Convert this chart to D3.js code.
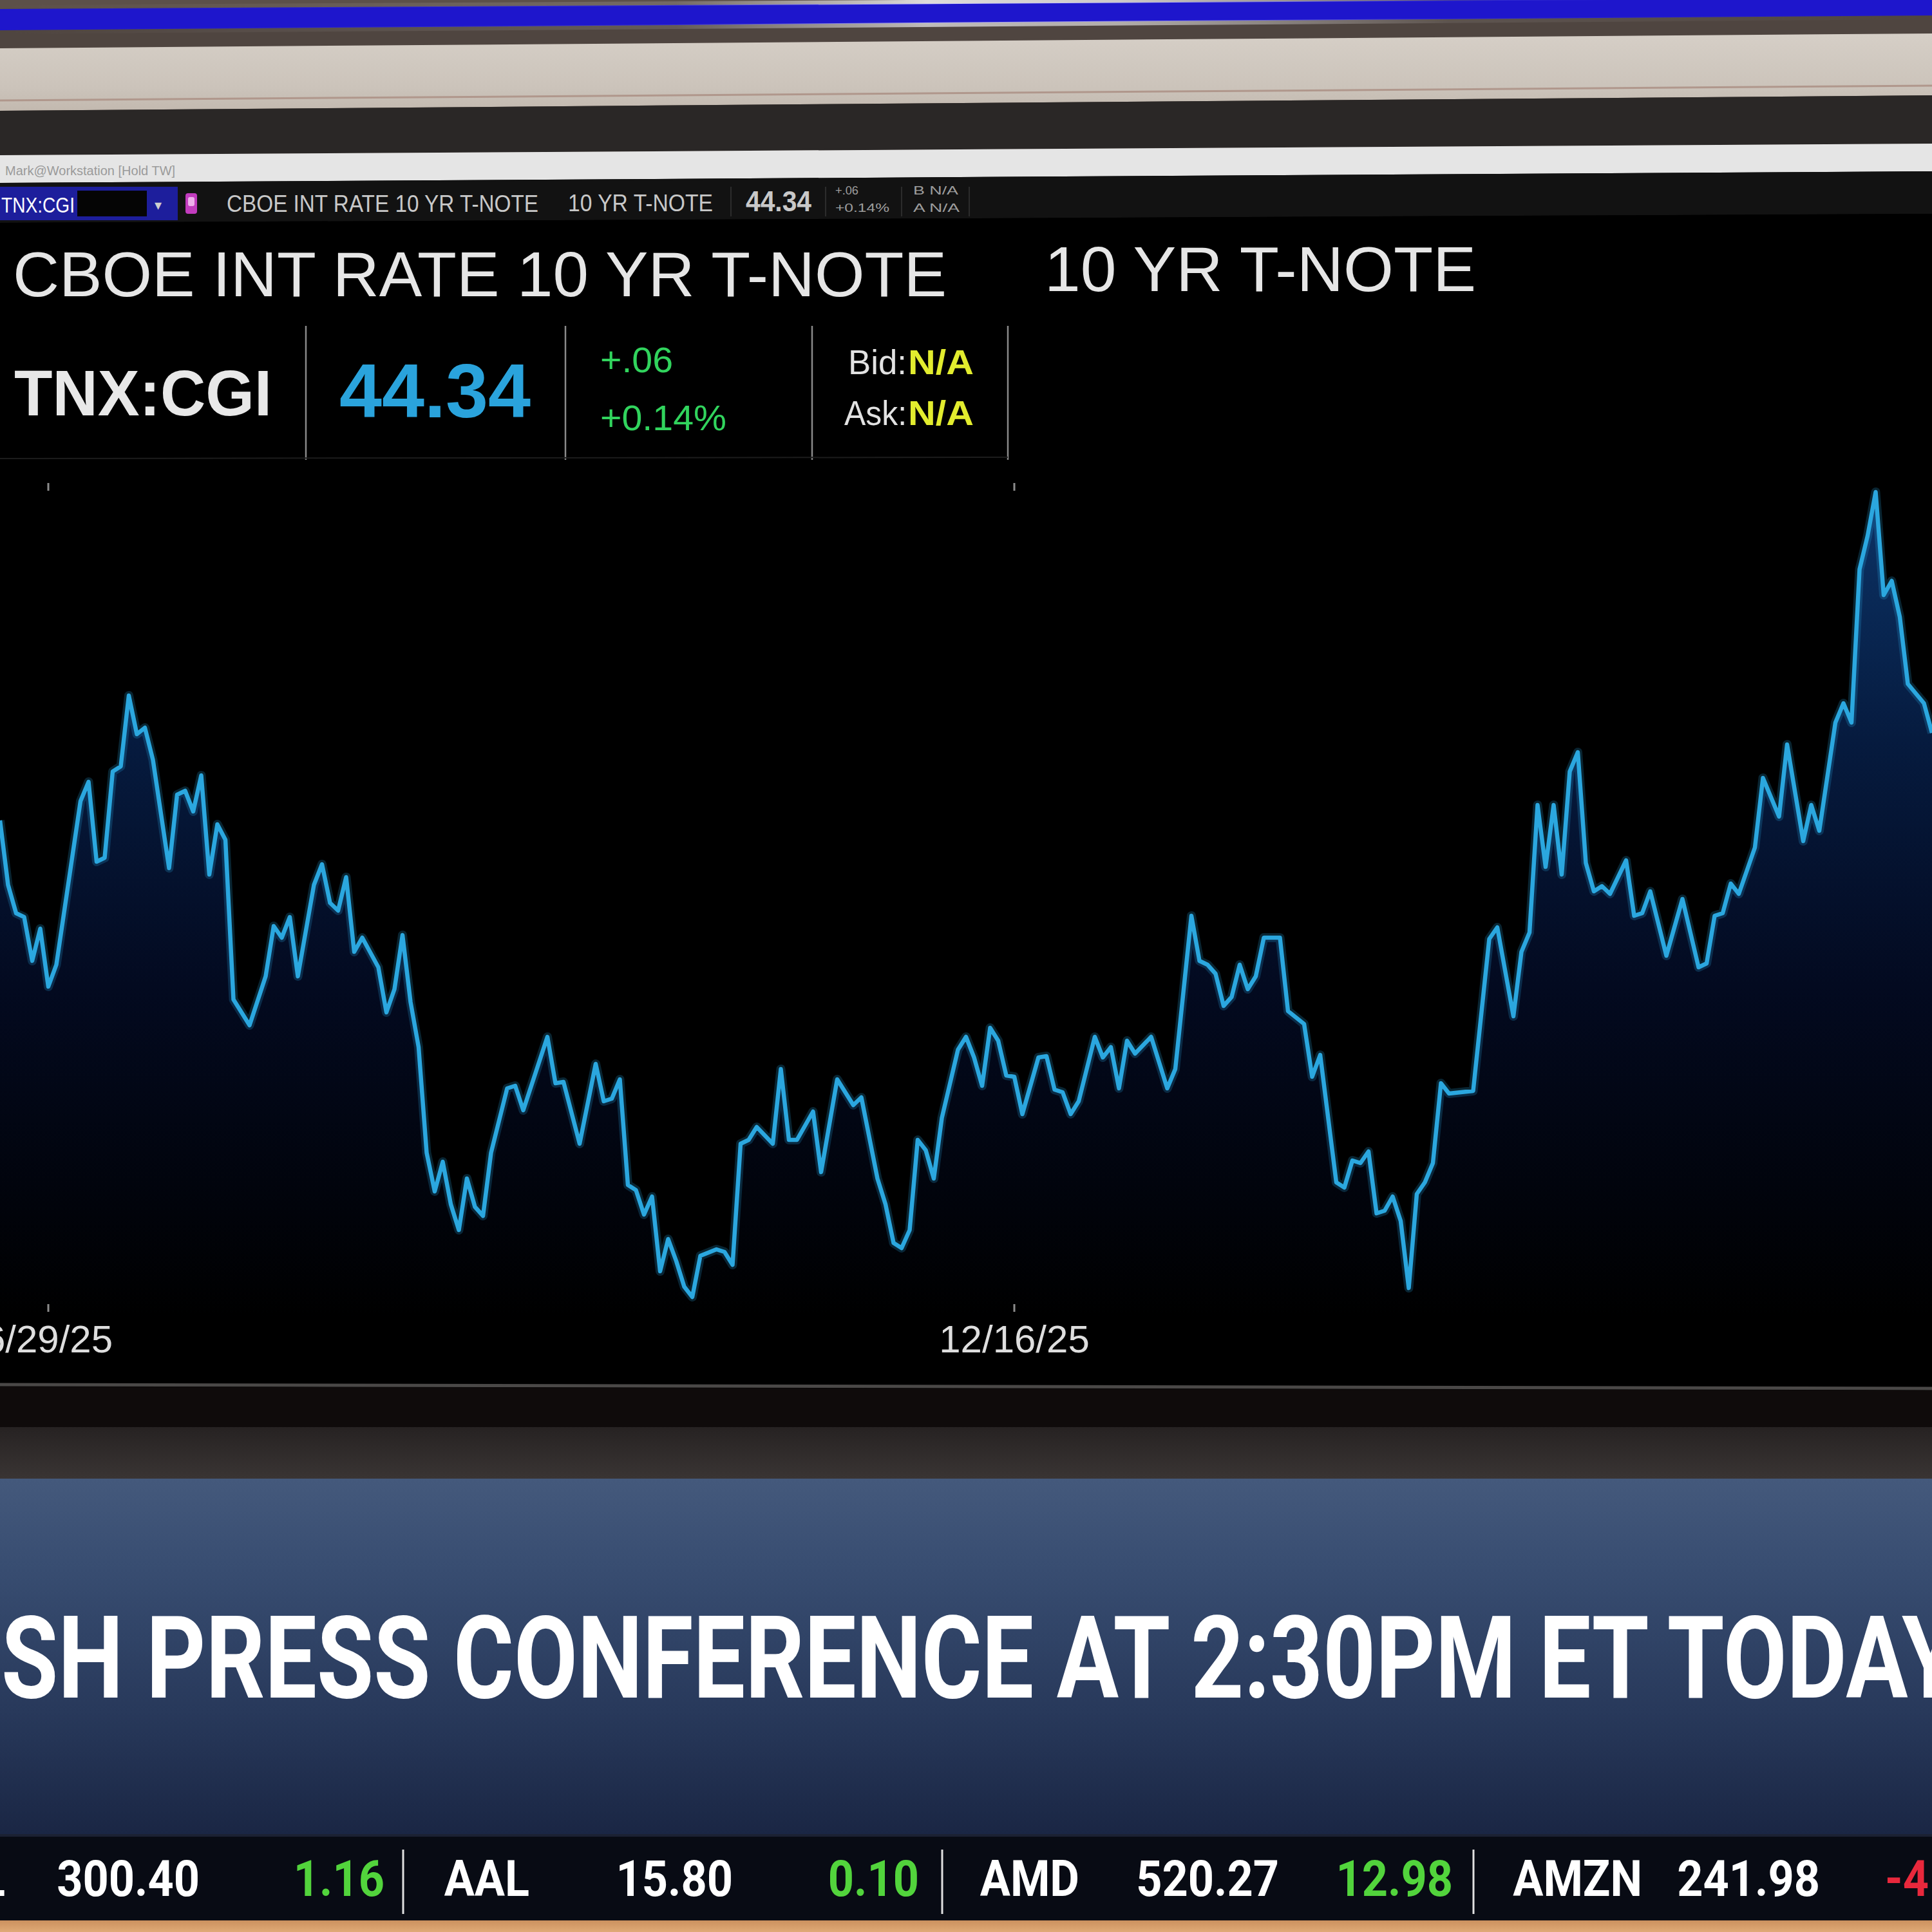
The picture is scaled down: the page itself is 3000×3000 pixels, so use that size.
<!DOCTYPE html>
<head>
    <meta charset="utf-8">
    <title>TNX:CGI - 10 YR T-NOTE</title>
    <style>
        body { margin: 0; background: #000; }
        svg { display: block; }
    </style>
</head>
<body>

<svg width="3000" height="3000"></svg>

<script src="https://d3js.org/d3.v7.min.js"></script>

<script>

// trading session (one per day) of each turning point of the line, and the index value there
var sessions = [0, 1, 2, 3, 4, 5, 6, 7, 10, 11, 12, 13, 14, 15, 16, 17, 18, 19, 21, 22,
    23, 24, 25, 26, 27, 28, 29, 31, 33, 34, 35, 36, 37, 39, 40, 41, 42, 43, 44, 45,
    47, 48, 49, 50, 51, 52, 53, 54, 55, 56, 57, 58, 59, 60, 61, 63, 64, 65, 68, 69,
    70, 72, 74, 75, 76, 77, 78, 79, 80, 81, 82, 83, 84, 85, 86, 87, 89, 90, 91, 92,
    93, 94, 96, 97, 98, 99, 101, 102, 104, 106, 107, 109, 110, 111, 112, 113, 114, 115, 116, 117,
    119, 120, 121, 122, 123, 124, 125, 126, 127, 129, 130, 131, 132, 133, 134, 136, 137, 138, 139, 140,
    141, 143, 145, 146, 148, 149, 150, 151, 152, 153, 154, 155, 156, 157, 159, 160, 162, 163, 164, 166,
    167, 168, 169, 170, 171, 172, 173, 174, 175, 176, 177, 178, 179, 180, 183, 185, 186, 188, 189, 190,
    191, 192, 193, 194, 195, 196, 197, 198, 199, 200, 202, 203, 204, 205, 207, 209, 211, 212, 213, 214,
    215, 216, 218, 219, 221, 222, 224, 225, 226, 228, 229, 230, 231, 232, 233, 234, 235, 236, 237, 239,
    240];

var values = [44.13, 43.63, 43.41, 43.38, 43.04, 43.29, 42.84, 43.01, 44.28, 44.43, 43.81, 43.84, 44.51, 44.55, 45.10, 44.80, 44.85, 44.60, 43.76, 44.33,
    44.36, 44.20, 44.48, 43.71, 44.10, 43.98, 42.74, 42.54, 42.92, 43.31, 43.22, 43.38, 42.92, 43.63, 43.79, 43.49, 43.43, 43.69, 43.11, 43.22,
    42.99, 42.64, 42.82, 43.24, 42.72, 42.37, 41.55, 41.25, 41.48, 41.15, 40.95, 41.35, 41.13, 41.06, 41.55, 42.05, 42.07, 41.88, 42.45, 42.09,
    42.10, 41.62, 42.24, 41.95, 41.97, 42.12, 41.30, 41.26, 41.07, 41.21, 40.63, 40.88, 40.71, 40.51, 40.43, 40.75, 40.80, 40.78, 40.68, 41.62,
    41.65, 41.75, 41.62, 42.20, 41.65, 41.65, 41.87, 41.40, 42.12, 41.92, 41.98, 41.35, 41.15, 40.85, 40.81, 40.95, 41.65, 41.57, 41.35, 41.82,
    42.35, 42.45, 42.29, 42.07, 42.52, 42.42, 42.15, 42.14, 41.85, 42.29, 42.30, 42.04, 42.02, 41.85, 41.95, 42.45, 42.29, 42.37, 42.05, 42.42,
    42.32, 42.45, 42.05, 42.20, 43.39, 43.04, 43.01, 42.94, 42.69, 42.76, 43.01, 42.82, 42.92, 43.22, 43.22, 42.65, 42.55, 42.14, 42.31, 41.32,
    41.28, 41.49, 41.47, 41.56, 41.08, 41.10, 41.21, 41.02, 40.50, 41.23, 41.32, 41.47, 42.09, 42.01, 42.03, 43.21, 43.30, 42.61, 43.11, 43.26,
    44.25, 43.77, 44.25, 43.71, 44.51, 44.66, 43.80, 43.58, 43.62, 43.56, 43.82, 43.39, 43.41, 43.58, 43.08, 43.52, 42.99, 43.02, 43.39, 43.41,
    43.64, 43.56, 43.92, 44.46, 44.16, 44.72, 43.97, 44.25, 44.05, 44.89, 45.04, 44.89, 46.08, 46.34, 46.68, 45.88, 45.99, 45.71, 45.19, 45.04,
    44.81];

var tickSessions = [6, 126];
var tickLabels = ['6/29/25', '12/16/25'];

var quoteSymbol = 'TNX:CGI',
    quoteName = 'CBOE INT RATE 10 YR T-NOTE',
    quoteShort = '10 YR T-NOTE',
    quoteLast = '44.34',
    quoteChange = '+.06',
    quotePct = '+0.14%';

var headline = 'SH PRESS CONFERENCE AT 2:30PM ET TODAY';

var tickerSymbols = ['AAPL', 'AAL', 'AMD', 'AMZN'];
var tickerPrices = ['300.40', '15.80', '520.27', '241.98'];
var tickerChanges = ['1.16', '0.10', '12.98', '-4'];

var svg = d3.select('svg'),
    defs = svg.append('defs');

var sans = '"Liberation Sans", Arial, sans-serif';

function poly(pts, fill) {
    return svg.append('polygon')
        .attr('points', pts.map(p => p.join(',')).join(' '))
        .attr('fill', fill);
}

function vgrad(id, y1, y2, stops) {
    var g = defs.append('linearGradient').attr('id', id)
        .attr('gradientUnits', 'userSpaceOnUse')
        .attr('x1', 0).attr('x2', 0).attr('y1', y1).attr('y2', y2);
    stops.forEach(s => g.append('stop').attr('offset', s[0]).attr('stop-color', s[1]).attr('stop-opacity', s[2] == null ? 1 : s[2]));
}

vgrad('beige', 50, 175, [[0, '#d6cfc7'], [0.7, '#cbc3ba'], [1, '#c2b8ae']]);
vgrad('under', 2215, 2298, [[0, '#262222'], [1, '#3a3534']]);
vgrad('lower', 2296, 2850, [[0, '#44597c'], [0.25, '#384d71'], [0.65, '#28395b'], [1, '#1a2644']]);
vgrad('wood', 2980, 3000, [[0, '#c98e5c'], [1, '#e0aa76']]);
vgrad('areaFill', 760, 2045, [[0, '#0c3468'], [0.3, '#061b3f'], [0.6, '#030a20'], [1, '#000000']]);

var streak = defs.append('linearGradient').attr('id', 'streak');
[[0, 0], [0.35, 0.15], [0.48, 0.8], [0.58, 0.7], [0.75, 0.1], [1, 0]].forEach(s =>
    streak.append('stop').attr('offset', s[0]).attr('stop-color', '#ffffff').attr('stop-opacity', s[1]));

// ---- studio wall above the screen (slightly tilted camera) ----
svg.append('rect').attr('width', 3000).attr('height', 260).attr('fill', '#4f4540');
poly([[0, 0], [3000, 0], [3000, -4], [0, 14]], '#5c5049');
poly([[0, 14], [3000, -4], [3000, 24], [0, 47]], '#1e16cc');
poly([[0, 8], [3000, -9], [3000, -3], [0, 15]], 'url(#streak)');
poly([[0, 46], [3000, 23], [3000, 30], [0, 53]], 'url(#streak)').attr('opacity', 0.8);
poly([[0, 75], [3000, 52], [3000, 148], [0, 172]], 'url(#beige)');
svg.append('line').attr('x1', 0).attr('y1', 156).attr('x2', 3000).attr('y2', 133)
    .attr('stroke', '#b0978c').attr('stroke-width', 3);
poly([[0, 172], [3000, 148], [3000, 223], [0, 241]], '#2a2726');

// ---- window chrome ----
poly([[0, 241], [3000, 223], [3000, 266], [0, 284]], '#e5e5e5');
svg.append('text').attr('x', 8).attr('y', 272)
    .attr('font-family', sans).attr('font-size', 20).attr('fill', '#9a9a9a')
    .text('Mark@Workstation [Hold TW]');
poly([[0, 284], [3000, 266], [3000, 332], [0, 346]], '#121212');

// screen body
poly([[0, 346], [3000, 332], [3000, 2156], [0, 2150]], '#000000');

// toolbar
var tb = svg.append('g');
tb.append('rect').attr('x', 0).attr('y', 290).attr('width', 276).attr('height', 52).attr('fill', '#1d1e9c');
tb.append('rect').attr('x', 120).attr('y', 296).attr('width', 108).attr('height', 40).attr('fill', '#050505');
tb.append('text').attr('x', 2).attr('y', 330)
    .attr('font-family', sans).attr('font-size', 34).attr('fill', '#ffffff')
    .attr('textLength', 114).attr('lengthAdjust', 'spacingAndGlyphs')
    .text(quoteSymbol);
tb.append('text').attr('x', 245).attr('y', 326).attr('text-anchor', 'middle')
    .attr('font-family', sans).attr('font-size', 22).attr('fill', '#cfcfcf').text('\u25BE');
tb.append('rect').attr('x', 288).attr('y', 300).attr('width', 18).attr('height', 32).attr('rx', 4).attr('fill', '#c23cbe');
tb.append('rect').attr('x', 292).attr('y', 306).attr('width', 10).attr('height', 14).attr('rx', 3).attr('fill', '#efb0ec');

var tbText = [
    {t: quoteName, x: 352, y: 329, w: 484, fs: 36, c: '#c8c8c8', b: false},
    {t: quoteShort, x: 882, y: 328, w: 225, fs: 36, c: '#c8c8c8', b: false},
    {t: quoteLast, x: 1158, y: 328, w: 102, fs: 44, c: '#c8c8c8', b: true},
    {t: quoteChange, x: 1297, y: 302, w: 36, fs: 18, c: '#9d9d9d', b: false},
    {t: quotePct, x: 1297, y: 329, w: 84, fs: 18, c: '#9d9d9d', b: false},
    {t: 'B  N/A', x: 1418, y: 302, w: 70, fs: 18, c: '#9d9d9d', b: false},
    {t: 'A  N/A', x: 1418, y: 329, w: 72, fs: 18, c: '#9d9d9d', b: false}
];
tb.selectAll('text.tb').data(tbText).enter().append('text')
    .attr('class', 'tb')
    .attr('x', d => d.x).attr('y', d => d.y)
    .attr('font-family', sans).attr('font-size', d => d.fs)
    .attr('font-weight', d => d.b ? 'bold' : 'normal')
    .attr('fill', d => d.c)
    .attr('textLength', d => d.w).attr('lengthAdjust', 'spacingAndGlyphs')
    .text(d => d.t);
tb.selectAll('line').data([1135, 1282, 1400, 1505]).enter().append('line')
    .attr('x1', d => d).attr('x2', d => d).attr('y1', 290).attr('y2', 336)
    .attr('stroke', '#2c2c2c').attr('stroke-width', 2);

// ---- quote header ----
var hd = svg.append('g').attr('font-family', sans);
hd.append('text').attr('x', 20).attr('y', 460).attr('font-size', 98).attr('fill', '#e6e6e6')
    .attr('textLength', 1450).attr('lengthAdjust', 'spacingAndGlyphs').text(quoteName);
hd.append('text').attr('x', 1622).attr('y', 452).attr('font-size', 98).attr('fill', '#e6e6e6')
    .attr('textLength', 670).attr('lengthAdjust', 'spacingAndGlyphs').text(quoteShort);

hd.append('text').attr('x', 22).attr('y', 645).attr('font-size', 100).attr('font-weight', 'bold')
    .attr('fill', '#e8e8e8').attr('textLength', 400).attr('lengthAdjust', 'spacingAndGlyphs').text(quoteSymbol);
hd.append('text').attr('x', 527).attr('y', 648).attr('font-size', 118).attr('font-weight', 'bold')
    .attr('fill', '#2aa3dc').attr('textLength', 297).attr('lengthAdjust', 'spacingAndGlyphs').text(quoteLast);
hd.append('text').attr('x', 932).attr('y', 578).attr('font-size', 56)
    .attr('fill', '#31d45d').attr('textLength', 113).attr('lengthAdjust', 'spacingAndGlyphs').text(quoteChange);
hd.append('text').attr('x', 932).attr('y', 668).attr('font-size', 56)
    .attr('fill', '#31d45d').attr('textLength', 196).attr('lengthAdjust', 'spacingAndGlyphs').text(quotePct);

[['Bid:', 1317, 581], ['Ask:', 1311, 660]].forEach(r => {
    hd.append('text').attr('x', r[1]).attr('y', r[2]).attr('font-size', 54).attr('fill', '#e2e2e2')
        .attr('textLength', 1408 - r[1]).attr('lengthAdjust', 'spacingAndGlyphs').text(r[0]);
    hd.append('text').attr('x', 1410).attr('y', r[2]).attr('font-size', 54).attr('font-weight', 'bold')
        .attr('fill', '#e2ec2e').attr('textLength', 102).attr('lengthAdjust', 'spacingAndGlyphs').text('N/A');
});

hd.selectAll('line.sep').data([475, 878, 1261, 1565]).enter().append('line')
    .attr('class', 'sep')
    .attr('x1', d => d).attr('x2', d => d).attr('y1', 506).attr('y2', 714)
    .attr('stroke', '#8a8a8a').attr('stroke-width', 2.5);
hd.append('line').attr('x1', 0).attr('x2', 1565).attr('y1', 712).attr('y2', 710)
    .attr('stroke', '#1c1c1c').attr('stroke-width', 2);

// ---- the chart ----
var x = d3.scaleLinear().domain([0, 240]).range([0, 3000]),
    y = d3.scaleLinear().domain([40, 47]).range([2100, 700]),
    plotTop = 756, plotBottom = 2045;

var data = sessions.map((s, i) => ({s: s, v: values[i]}));

var area = d3.area()
    .x(d => x(d.s))
    .y0(plotBottom)
    .y1(d => y(d.v));

var line = d3.line()
    .x(d => x(d.s))
    .y(d => y(d.v));

var chart = svg.append('g');

chart.append('path').datum(data)
    .attr('d', area)
    .attr('fill', 'url(#areaFill)');

// soft glow under the line
chart.append('path').datum(data)
    .attr('d', line)
    .attr('fill', 'none')
    .attr('stroke', '#2aa8e4')
    .attr('stroke-opacity', 0.22)
    .attr('stroke-width', 14)
    .attr('stroke-linejoin', 'round');

chart.append('path').datum(data)
    .attr('d', line)
    .attr('fill', 'none')
    .attr('stroke', '#2ba7df')
    .attr('stroke-width', 6.5)
    .attr('stroke-linejoin', 'round');

// tiny tick marks on top and bottom edges, dates under the bottom ones
var ticks = chart.selectAll('g.tick')
    .data(tickSessions.map((s, i) => ({s: s, label: tickLabels[i]})))
    .enter().append('g')
        .attr('class', 'tick')
        .attr('transform', d => `translate(${x(d.s)},0)`);

ticks.append('line').attr('y1', plotTop - 6).attr('y2', plotTop + 6)
    .attr('stroke', '#8c8c8c').attr('stroke-width', 3);
ticks.append('line').attr('y1', plotBottom - 20).attr('y2', plotBottom - 8)
    .attr('stroke', '#8c8c8c').attr('stroke-width', 3);
ticks.append('text')
    .attr('y', 2100)
    .attr('text-anchor', 'middle')
    .attr('font-family', sans)
    .attr('font-size', 60)
    .attr('fill', '#dedede')
    .text(d => d.label);

// ---- below the screen ----
svg.append('line').attr('x1', 0).attr('y1', 2150).attr('x2', 3000).attr('y2', 2156)
    .attr('stroke', '#4a4847').attr('stroke-width', 5);
poly([[0, 2153], [3000, 2159], [3000, 2218], [0, 2216]], '#0f0b0b');
svg.append('rect').attr('x', 0).attr('y', 2216).attr('width', 3000).attr('height', 82).attr('fill', 'url(#under)');

// lower third
svg.append('rect').attr('x', 0).attr('y', 2296).attr('width', 3000).attr('height', 554).attr('fill', 'url(#lower)');
svg.append('text')
    .attr('x', 2).attr('y', 2636)
    .attr('font-family', 'Roboto, "Liberation Sans", sans-serif')
    .attr('font-weight', 'bold')
    .attr('font-size', 178)
    .attr('fill', '#ffffff')
    .attr('textLength', 3040).attr('lengthAdjust', 'spacingAndGlyphs')
    .text(headline);

// ticker crawl
svg.append('rect').attr('x', 0).attr('y', 2848).attr('width', 3000).attr('height', 134).attr('fill', '#080b14');
svg.append('rect').attr('x', 0).attr('y', 2848).attr('width', 3000).attr('height', 4).attr('fill', '#1b2133');

// where each crawl item sits right now (the crawl is mid-scroll)
var symEnd = [8, 822, 1676, 2550],
    priceEnd = [310, 1138, 1986, 2826],
    chgAt = [597, 1427, 2256, 2927],
    sepAt = [null, 626, 1463, 2288];

var tk = svg.append('g')
    .attr('font-family', 'Roboto, "Liberation Sans", sans-serif')
    .attr('font-weight', 'bold')
    .attr('font-size', 78);

var items = tk.selectAll('g').data(tickerSymbols.map((s, i) => ({
        sym: s, price: tickerPrices[i], chg: tickerChanges[i], i: i
    })))
    .enter().append('g');

items.append('text').attr('x', d => symEnd[d.i]).attr('y', 2944).attr('text-anchor', 'end')
    .attr('fill', '#ffffff').text(d => d.sym);
items.append('text').attr('x', d => priceEnd[d.i]).attr('y', 2944).attr('text-anchor', 'end')
    .attr('fill', '#ffffff').text(d => d.price);
items.append('text').attr('x', d => chgAt[d.i]).attr('y', 2944)
    .attr('text-anchor', d => d.chg[0] === '-' ? 'start' : 'end')
    .attr('fill', d => d.chg[0] === '-' ? '#e8283c' : '#52d43c').text(d => d.chg);
items.filter(d => sepAt[d.i] != null).append('line')
    .attr('x1', d => sepAt[d.i]).attr('x2', d => sepAt[d.i]).attr('y1', 2872).attr('y2', 2972)
    .attr('stroke', '#e0e0e0').attr('stroke-width', 3);

// squeeze the ticker type a little, it's a condensed face on air
tk.selectAll('text').each(function() {
    var w = this.getComputedTextLength();
    d3.select(this).attr('textLength', w * 0.9).attr('lengthAdjust', 'spacingAndGlyphs');
});

// desk edge
svg.append('rect').attr('x', 0).attr('y', 2982).attr('width', 3000).attr('height', 18).attr('fill', 'url(#wood)');

</script>

</body>
